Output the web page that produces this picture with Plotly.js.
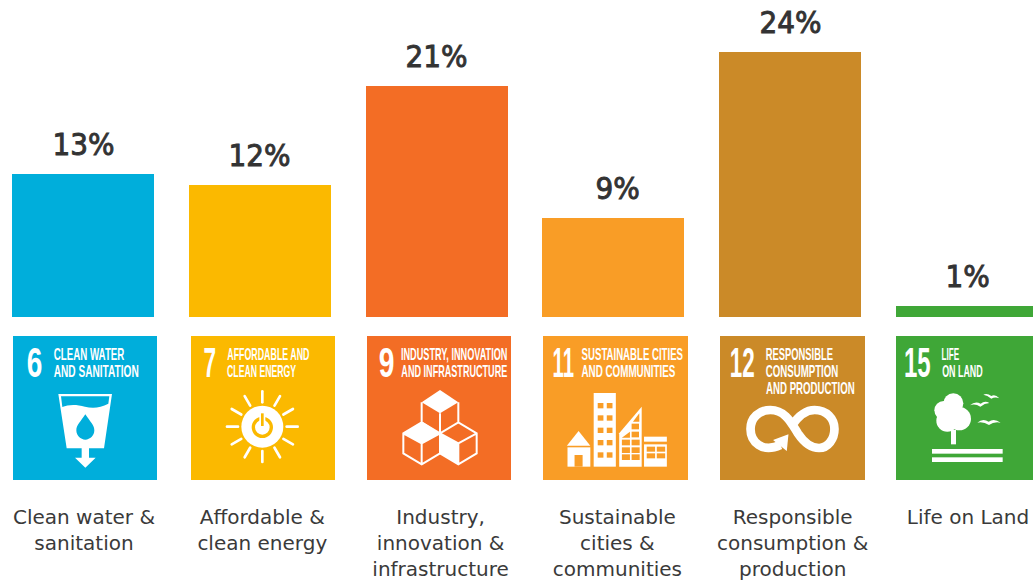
<!DOCTYPE html>
<html>
<head>
<meta charset="utf-8">
<script src="https://cdn.plot.ly/plotly-3.0.1.min.js"></script>
<style>html,body{margin:0;padding:0;background:#fff;overflow:hidden}#chart{width:1033px;height:581px}</style>
</head>
<body>
<div id="chart"></div>
<script>
// Share of contributions by Sustainable Development Goal
const categories = ["Clean water &<br>sanitation", "Affordable &<br>clean energy", "Industry,<br>innovation &<br>infrastructure", "Sustainable<br>cities &<br>communities", "Responsible<br>consumption &<br>production", "Life on Land"];
const values = [13, 12, 21, 9, 24, 1];
const colors = ["#00AEDB", "#FBB900", "#F36D25", "#F99D26", "#CB8A28", "#3FA737"];
const goalNumbers = ["6", "7", "9", "11", "12", "15"];
const goalTitles = [
  ["CLEAN WATER", "AND SANITATION"],
  ["AFFORDABLE AND", "CLEAN ENERGY"],
  ["INDUSTRY, INNOVATION", "AND INFRASTRUCTURE"],
  ["SUSTAINABLE CITIES", "AND COMMUNITIES"],
  ["RESPONSIBLE", "CONSUMPTION", "AND PRODUCTION"],
  ["LIFE", "ON LAND"]
];

// Page geometry of the goal tiles, in pixels
const W = 1033, H = 581, PLOT_H = 317;
const PITCH = 176.8, FIRST_CENTRE = 83, PX_PER_POINT = 11.022;
const tileLeft = [13, 191, 367, 543, 720, 896];
const tileWidth = [144, 144, 144, 145, 145, 144];
const tileTop = 336, tileHeight = 144;
// Horizontal extents inside each tile: number, then one pair per title line
const numberSpan = [[13.7, 29.3], [11.7, 24.3], [11.3, 27], [9.3, 30.7], [10, 35], [8, 34.7]];
const titleSpan = [
  [[41.3, 112], [41.3, 126.3]],
  [[36, 118.3], [36, 105]],
  [[34, 140.7], [34, 140]],
  [[38.7, 140.3], [38.7, 132.7]],
  [[46, 113.3], [46, 118.7], [46, 134.7]],
  [[45.7, 63.3], [45.7, 86.3]]
];
const lineCentre = [18, 35.3, 52.6];
const numberCentre = 26.3;
// Captions and a few percentages sit over the tile centres rather than the bar centres
const captionShift = [1, 2.5, 4, 4, 2.5, 1];
const valueShift = [0, 0, 0, 4, 0, 0];

const px = x => x / W;
const py = y => (PLOT_H - y) / PLOT_H;

// Pictograms, each drawn in its own 432-unit box
function sunRays() {
  let s = "";
  for (let i = 0; i < 12; i++) {
    s += `<line x1="787" y1="232" x2="787" y2="199" transform="rotate(${i * 30} 787 305)"/>`;
  }
  return s;
}
function grid(xs, ys, w, h, c) {
  let s = "";
  ys.forEach(y => xs.forEach(x => { s += `<rect x="${x}" y="${y}" width="${w}" height="${h}" fill="${c}"/>`; }));
  return s;
}
const pictograms = [
  c => `<path d="M175 207H336L312 370H267V398H287L256 428L225 398H245V370H200Z" fill="#fff"/>
    <path d="M183 214H328L325 236C300 250 275 250 255 245C230 238 205 238 187 246Z" fill="${c}"/>
    <path d="M256 268C270 290 283 300 283 316C283 332 270 344 256 344C242 344 229 332 229 316C229 300 242 290 256 268Z" fill="${c}"/>`,
  c => `<g stroke="#fff" stroke-width="8" stroke-linecap="round">${sunRays()}</g>
    <circle cx="787" cy="305" r="63" fill="#fff"/>
    <circle cx="787" cy="307" r="27" fill="none" stroke="${c}" stroke-width="10"/>
    <rect x="778" y="262" width="18" height="42" fill="#fff"/>
    <rect x="783" y="265" width="8" height="38" fill="${c}"/>`,
  c => `<g fill="none" stroke="#fff" stroke-width="6" stroke-linejoin="miter">
      <path d="M230 232V292M340 232V292M285 265V385M230 292L285 325L340 292L395 325V385L340 418L285 385L230 418L175 385V325L230 292M230 355V418M340 355V418M285 325L230 355M285 325L340 355L395 325M230 355L175 325M230 418L285 385"/>
    </g>
    <path d="M285 195L340 232L285 265L230 232Z" fill="#fff"/>
    <path d="M232 290L285 325L230 355L175 325Z" fill="#fff"/>
    <path d="M285 325L340 355V418L285 385Z" fill="#fff"/>`,
  c => `<path d="M665 362H735L700 318Z" fill="#fff"/>
    <rect x="667" y="367" width="68" height="58" fill="#fff"/>
    <rect x="688" y="390" width="24" height="35" fill="${c}"/>
    <rect x="745" y="204" width="66" height="221" fill="#fff"/>
    ${grid([757, 784], [234, 271, 308, 345, 382], 17, 16, c)}
    <path d="M821 425V325L888 245V425Z" fill="#fff"/>
    ${grid([829, 858], [344, 367, 388], 24, 17, c)}
    ${grid([858], [296, 320], 22, 17, c)}
    <path d="M862 290H881V265Z" fill="${c}"/>
    <path d="M829 338H853V320Z" fill="${c}"/>
    <rect x="895" y="335" width="68" height="15" fill="#fff"/>
    <rect x="895" y="358" width="68" height="67" fill="#fff"/>
    ${grid([903, 933], [365, 385], 25, 15, c)}`,
  c => `<path d="M270 360C215 385 181 350 181 312C181 278 207 255 240 255C285 255 303 295 322 325C340 352 360 369 385 369C412 369 431 342 431 312C431 280 407 255 372 255C340 255 320 278 304 302" fill="none" stroke="#fff" stroke-width="26"/>
    <path d="M248 345L294 328L289 378Z" fill="#fff"/>`,
  c => `<g fill="#fff">
      <circle cx="790" cy="235" r="30"/><circle cx="761" cy="256" r="28"/>
      <circle cx="808" cy="281" r="35"/><circle cx="772" cy="287" r="33"/>
      <rect x="783" y="315" width="15" height="43"/>
      <rect x="726" y="372" width="212" height="14"/>
      <rect x="726" y="397" width="212" height="14"/>
      <path d="M840 241Q855 227 872 236Q885 225 898 234Q884 235 871 245Q855 235 840 241Z"/>
      <path d="M880 209Q892 204 904 213Q915 206 928 220Q915 215 904 221Q892 211 880 209Z"/>
      <path d="M862 293Q878 279 896 290Q912 279 932 293Q912 289 897 300Q880 289 862 293Z"/>
    </g>`
];
const boxLeft = [39, 573, 66, 594, 90, 618];

function tileImage(i) {
  const svg = `<svg xmlns="http://www.w3.org/2000/svg" width="${tileWidth[i]}" height="${tileHeight}" viewBox="${boxLeft[i]} 33 432 432" preserveAspectRatio="none">
    <rect x="${boxLeft[i]}" y="33" width="432" height="432" fill="${colors[i]}"/>${pictograms[i](colors[i])}</svg>`;
  return {
    source: "data:image/svg+xml;charset=utf-8," + encodeURIComponent(svg),
    xref: "paper", yref: "paper",
    x: px(tileLeft[i]), y: py(tileTop),
    sizex: tileWidth[i] / W, sizey: tileHeight / PLOT_H,
    xanchor: "left", yanchor: "top", sizing: "stretch", layer: "above"
  };
}

const annotations = [];
const fitted = [];
// Percentage above each bar
values.forEach((v, i) => {
  annotations.push({
    x: i, y: v, xref: "x", yref: "y", text: v + "%", showarrow: false,
    yanchor: "bottom", yshift: 10, xshift: valueShift[i],
    font: { family: "DejaVu Sans", size: 31, color: "#333333" }
  });
});
const valueCount = annotations.length;
// Goal number and title lettering on each tile
function tileText(text, span, cy, size, i) {
  fitted[annotations.length] = span[1] - span[0];
  annotations.push({
    xref: "paper", yref: "paper", x: px(tileLeft[i] + (span[0] + span[1]) / 2), y: py(tileTop + cy),
    xanchor: "center", yanchor: "middle", text, showarrow: false, borderpad: 0,
    font: { family: "Liberation Sans Narrow, Liberation Sans", size, color: "#ffffff", weight: 700 }
  });
}
goalNumbers.forEach((n, i) => {
  tileText(n, numberSpan[i], numberCentre, 42, i);
  goalTitles[i].forEach((t, k) => tileText(t, titleSpan[i][k], lineCentre[k], 16, i));
});

const trace = {
  type: "bar",
  x: categories.map((_, i) => i),
  y: values,
  width: 142 / PITCH,
  marker: { color: colors, line: { width: 0 } },
  hoverinfo: "skip"
};

const layout = {
  width: W, height: H,
  margin: { l: 0, r: 0, t: 0, b: H - PLOT_H, pad: 0 },
  paper_bgcolor: "#fff", plot_bgcolor: "#fff",
  showlegend: false,
  bargap: 0,
  xaxis: {
    type: "linear",
    range: [-FIRST_CENTRE / PITCH, (W - FIRST_CENTRE) / PITCH],
    tickmode: "array",
    tickvals: categories.map((_, i) => i + captionShift[i] / PITCH),
    ticktext: categories,
    ticks: "", showline: false, showgrid: false, zeroline: false, tickangle: 0,
    ticklabelstandoff: 186,
    tickfont: { family: "DejaVu Sans", size: 20, color: "#3a3a3a" }
  },
  yaxis: { range: [0, PLOT_H / PX_PER_POINT], visible: false, fixedrange: true },
  images: categories.map((_, i) => tileImage(i)),
  annotations
};

// Squeeze a text horizontally about its own anchor
function squeeze(t, k) {
  const cx = parseFloat(t.getAttribute("x")) || 0;
  t.setAttribute("transform", `translate(${cx} 0) scale(${k} 1) translate(${-cx} 0)`);
}

Plotly.newPlot("chart", [trace], layout, { staticPlot: true, displayModeBar: false }).then(gd => {
  // Condense the tile lettering to its set width and firm up the percentages
  gd.querySelectorAll(".annotation").forEach((node, idx) => {
    const t = node.querySelector("text");
    if (!t) return;
    if (idx < valueCount) {
      t.setAttribute("stroke", "#333333");
      t.setAttribute("stroke-width", "1");
      squeeze(t, 0.9);
    } else if (fitted[idx]) {
      squeeze(t, fitted[idx] / t.getComputedTextLength());
    }
  });
});
</script>
</body>
</html>
